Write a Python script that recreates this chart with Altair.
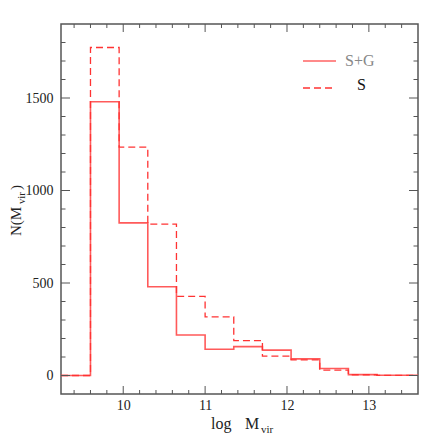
import altair as alt
import pandas as pd

# Histogram bin edges (log M_vir) and counts
edges = [9.24, 9.6, 9.95, 10.3, 10.65, 11.0, 11.35, 11.7, 12.05, 12.4, 12.75, 13.1, 13.6]
n_sg = [0, 1480, 825, 480, 219, 142, 156, 137, 90, 38, 5, 1, 1]
n_s = [0, 1773, 1234, 818, 428, 317, 189, 105, 85, 29, 4, 1, 1]

x_major = [10, 11, 12, 13]
x_minor = [9.4, 9.6, 9.8, 10.2, 10.4, 10.6, 10.8, 11.2, 11.4, 11.6, 11.8,
           12.2, 12.4, 12.6, 12.8, 13.2, 13.4]
y_major = [0, 500, 1000, 1500]
y_minor = [100, 200, 300, 400, 600, 700, 800, 900, 1100, 1200, 1300, 1400,
           1600, 1700, 1800]

W, H = 357, 370
SERIF = "Liberation Serif"
RED_SOLID = "#ff5a5a"
RED_DASH = "#ff3333"
TICK = "#555555"

xs = alt.Scale(domain=[9.24, 13.6], nice=False, zero=False)
ys = alt.Scale(domain=[-100, 1900], nice=False, zero=False)

df_sg = pd.DataFrame({"x": edges, "y": n_sg})
df_s = pd.DataFrame({"x": edges, "y": n_s})

xaxis = alt.Axis(values=x_major, format="d", ticks=False, domain=False, grid=False, title=None,
                 labelFont=SERIF, labelFontSize=14, labelPadding=4, labelColor="#222")
yaxis = alt.Axis(values=y_major, format="d", ticks=False, domain=False, grid=False, title=None,
                 labelFont=SERIF, labelFontSize=14, labelPadding=8, labelColor="#222")

line_sg = alt.Chart(df_sg).mark_line(interpolate="step-after", color=RED_SOLID,
                                     strokeWidth=1.6, clip=True).encode(
    x=alt.X("x:Q", scale=xs, axis=xaxis),
    y=alt.Y("y:Q", scale=ys, axis=yaxis),
)
line_s = alt.Chart(df_s).mark_line(interpolate="step-after", color=RED_DASH,
                                   strokeWidth=1.3, strokeDash=[7, 4], clip=True).encode(
    x=alt.X("x:Q", scale=xs),
    y=alt.Y("y:Q", scale=ys),
)


def xticks(vals, length):
    d = pd.DataFrame({"x": vals})
    bottom = alt.Chart(d).mark_rule(color=TICK, strokeWidth=1).encode(
        x=alt.X("x:Q", scale=xs), y=alt.value(H), y2=alt.value(H - length))
    top = alt.Chart(d).mark_rule(color=TICK, strokeWidth=1).encode(
        x=alt.X("x:Q", scale=xs), y=alt.value(0), y2=alt.value(length))
    return [bottom, top]


def yticks(vals, length):
    d = pd.DataFrame({"y": vals})
    left = alt.Chart(d).mark_rule(color=TICK, strokeWidth=1).encode(
        y=alt.Y("y:Q", scale=ys), x=alt.value(0), x2=alt.value(length))
    right = alt.Chart(d).mark_rule(color=TICK, strokeWidth=1).encode(
        y=alt.Y("y:Q", scale=ys), x=alt.value(W), x2=alt.value(W - length))
    return [left, right]


ticks = xticks(x_major, 8) + xticks(x_minor, 4) + yticks(y_major, 9) + yticks(y_minor, 4.5)

one = pd.DataFrame({"a": [0]})


def txt(text, x, y, size, color="#222", angle=0, align="left", baseline="alphabetic"):
    return alt.Chart(one).mark_text(text=text, font=SERIF, fontSize=size, color=color,
                                    angle=angle, align=align, baseline=baseline).encode(
        x=alt.value(x), y=alt.value(y))


titles = [
    txt("log", 150, 405, 16),
    txt("M", 184, 405, 16),
    txt("vir", 200, 409, 11),
    txt("N(M", -40, 212, 15, angle=270),
    txt("vir", -36, 180, 10.5, angle=270),
    txt(")", -40, 166, 15, angle=270),
]

legend = [
    alt.Chart(one).mark_rule(color="#ff8a8a", strokeWidth=2).encode(
        x=alt.value(242), x2=alt.value(275), y=alt.value(37)),
    alt.Chart(one).mark_rule(color=RED_DASH, strokeWidth=1.3, strokeDash=[7, 4]).encode(
        x=alt.value(242), x2=alt.value(275), y=alt.value(64)),
    txt("S+G", 284, 37, 16, color="#888888", baseline="middle"),
    txt("S", 296, 61, 16, color="#111111", baseline="middle"),
]

chart = alt.layer(line_sg, line_s, *ticks, *titles, *legend).properties(
    width=W, height=H,
    autosize=alt.AutoSizeParams(type="none"),
    padding={"left": 53, "top": 16, "right": 15, "bottom": 45},
).configure_view(stroke="#555555", strokeWidth=1.5)

chart.save("out.html", embed_options={"renderer": "svg", "actions": False})
